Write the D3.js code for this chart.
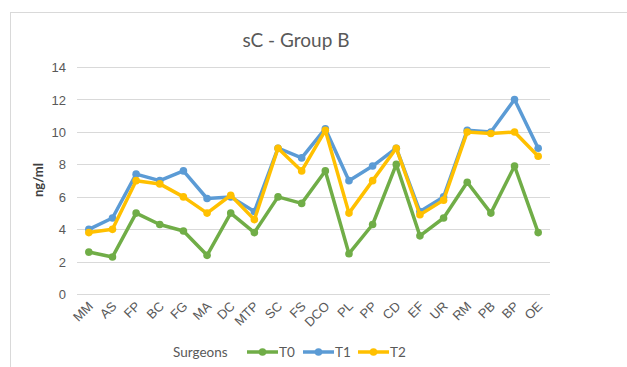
<!DOCTYPE html>
<html><head><meta charset="utf-8">
<script src="https://cdn.jsdelivr.net/npm/d3@7/dist/d3.min.js"></script>
<style>body{margin:0;background:#fff;}svg{display:block;font-family:Lato,"Open Sans",sans-serif;}</style>
</head><body><svg id="c" width="627" height="367"></svg>
<script>
const categories = ["MM","AS","FP","BC","FG","MA","DC","MTP","SC","FS","DCO","PL","PP","CD","EF","UR","RM","PB","BP","OE"];
const T0 = [2.6,2.3,5.0,4.3,3.9,2.4,5.0,3.8,6.0,5.6,7.6,2.5,4.3,8.0,3.6,4.7,6.9,5.0,7.9,3.8];
const T1 = [4.0,4.7,7.4,7.0,7.6,5.9,6.0,5.1,9.0,8.4,10.2,7.0,7.9,9.0,5.1,6.0,10.1,10.0,12.0,9.0];
const T2 = [3.8,4.0,7.0,6.8,6.0,5.0,6.1,4.6,9.0,7.6,10.1,5.0,7.0,9.0,4.9,5.8,10.0,9.9,10.0,8.5];
const yTicks = [0,2,4,6,8,10,12,14];
const seriesNames = ["T0","T1","T2"];
const seriesColors = ["#70AD47","#5B9BD5","#FFC000"];
const seriesData = [T0,T1,T2];
const title = "sC - Group B";
const yLabel = "ng/ml";
const xLabel = "Surgeons";

const svg = d3.select("#c");
const textColor = "#595959";
// frame
svg.append("rect").attr("x",10.5).attr("y",12.5).attr("width",700).attr("height",400)
  .attr("fill","none").attr("stroke","#d9d9d9").attr("stroke-width",1);

const x = d3.scaleBand().domain(categories).range([77,550]);
const y = d3.scaleLinear().domain([0,14]).range([294.3,67]);

// grid
svg.append("g").selectAll("line").data(yTicks).join("line")
  .attr("x1",77).attr("x2",550)
  .attr("y1",d=>Math.round(y(d))+0.5).attr("y2",d=>Math.round(y(d))+0.5)
  .attr("stroke","#d9d9d9").attr("stroke-width",1);

// y axis labels
const yAxis = d3.axisLeft(y).tickValues(yTicks).tickSize(0).tickPadding(0);
const gy = svg.append("g").attr("transform","translate(66,0)").call(yAxis);
gy.select(".domain").remove();
gy.selectAll("text").attr("fill",textColor).style("font-size","13px").attr("dy","0.35em");

// x axis labels
const xAxis = d3.axisBottom(x).tickSize(0).tickPadding(0);
const gx = svg.append("g").attr("transform","translate(0,300)").call(xAxis);
gx.select(".domain").remove();
gx.selectAll("text").attr("fill",textColor).style("font-size","13px")
  .attr("text-anchor","end").attr("dy",null).attr("y",0)
  .attr("transform","translate(5,7) rotate(-45)");

// title
svg.append("text").attr("x",296).attr("y",47).attr("text-anchor","middle")
  .attr("fill",textColor).style("font-size","19px").text(title);
// y label
svg.append("text").attr("transform","translate(43,180) rotate(-90)").attr("text-anchor","middle")
  .attr("fill","#404040").style("font-size","13px").style("font-weight","bold").text(yLabel);

// lines
const line = d3.line().x((d,i)=>x(categories[i])+x.bandwidth()/2).y(d=>y(d));
seriesData.forEach((s,k)=>{
  const g = svg.append("g");
  g.append("path").datum(s).attr("d",line).attr("fill","none")
    .attr("stroke",seriesColors[k]).attr("stroke-width",3.5).attr("stroke-linejoin","round");
  g.selectAll("circle").data(s).join("circle")
    .attr("cx",(d,i)=>x(categories[i])+x.bandwidth()/2).attr("cy",d=>y(d)).attr("r",3.8)
    .attr("fill",seriesColors[k]);
});

// legend
svg.append("text").attr("x",173).attr("y",357).attr("fill",textColor).style("font-size","13.5px").text(xLabel);
const legX = [247,303,358];
seriesNames.forEach((n,k)=>{
  const g = svg.append("g").attr("transform",`translate(${legX[k]},352)`);
  g.append("line").attr("x1",0).attr("x2",31).attr("stroke",seriesColors[k]).attr("stroke-width",3.5);
  g.append("circle").attr("cx",15.5).attr("r",3.8).attr("fill",seriesColors[k]);
  g.append("text").attr("x",32).attr("y",5).attr("fill",textColor).style("font-size","13.5px").text(n);
});
</script></body></html>
